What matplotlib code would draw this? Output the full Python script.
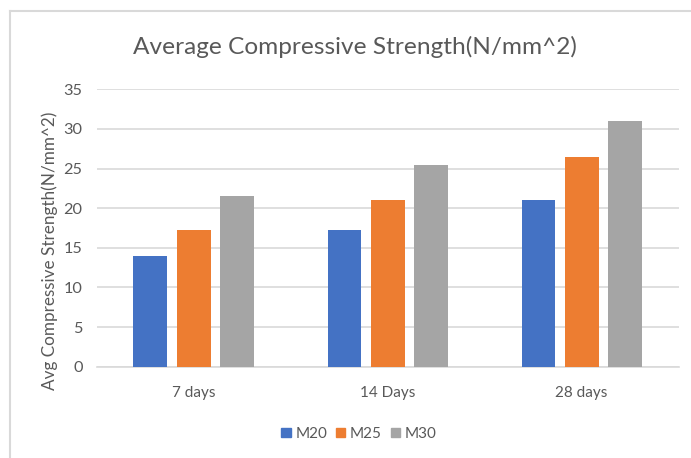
import numpy as np
import matplotlib.pyplot as plt
from matplotlib.lines import Line2D

plt.rcParams["font.family"] = ["Lato", "DejaVu Sans"]

# Data
CATEGORIES = ["7 days", "14 Days", "28 days"]
M20 = [14.0, 17.2, 21.0]
M25 = [17.3, 21.0, 26.5]
M30 = [21.5, 25.5, 31.0]
SERIES = ["M20", "M25", "M30"]
COLORS = ["#4472C4", "#ED7D31", "#A5A5A5"]

TEXT = "#595959"
GRID = "#D9D9D9"


def main():
    fig = plt.figure(figsize=(6.91, 4.58), dpi=100, facecolor="white")
    ax = fig.add_axes([0.1397, 0.1993, 0.8423, 0.6057])

    x = np.arange(len(CATEGORIES))
    width = 0.175
    offsets = [-0.222, 0.0, 0.222]
    for vals, name, color, off in zip([M20, M25, M30], SERIES, COLORS, offsets):
        ax.bar(x + off, vals, width=width, color=color, label=name, zorder=3)

    ax.set_xlim(-0.5, len(CATEGORIES) - 0.5)
    ax.set_ylim(0, 35)
    ax.set_yticks(np.arange(0, 36, 5))
    ax.set_xticks(x)
    ax.set_xticklabels(CATEGORIES)
    ax.grid(axis="y", color=GRID, linewidth=1.2, zorder=0)
    for side in ["top", "right", "left"]:
        ax.spines[side].set_visible(False)
    ax.spines["bottom"].set_color(GRID)
    ax.spines["bottom"].set_linewidth(1.2)
    ax.tick_params(axis="both", length=0, colors=TEXT)
    ax.tick_params(axis="y", pad=10, labelsize=11.7)
    ax.tick_params(axis="x", pad=14, labelsize=11)

    fig.text(355 / 691, 0.897, "Average Compressive Strength(N/mm^2)", ha="center", va="center",
             fontsize=17.6, color=TEXT)
    fig.text(0.072, 1 - 251 / 458, "Avg Compressive Strength(N/mm^2)", rotation=90,
             ha="center", va="center", fontsize=12.3, color=TEXT)

    handles = [plt.Rectangle((0, 0), 1, 1, color=c) for c in COLORS]
    fig.legend(handles, SERIES, loc="center", bbox_to_anchor=(359 / 691, 1 - 434 / 458), ncol=3,
               frameon=False, fontsize=11, labelcolor=TEXT, handlelength=0.6,
               handleheight=0.6, handletextpad=0.3, columnspacing=0.6)

    # chart frame (only top and left edges visible in the crop)
    fig.add_artist(Line2D([10 / 691, 10 / 691], [0, 1 - 11 / 458], color=GRID, linewidth=1.5))
    fig.add_artist(Line2D([10 / 691, 1], [1 - 11 / 458, 1 - 11 / 458], color=GRID, linewidth=1.5))

    fig.savefig("out.png", dpi=100, facecolor="white")


if __name__ == "__main__":
    main()
